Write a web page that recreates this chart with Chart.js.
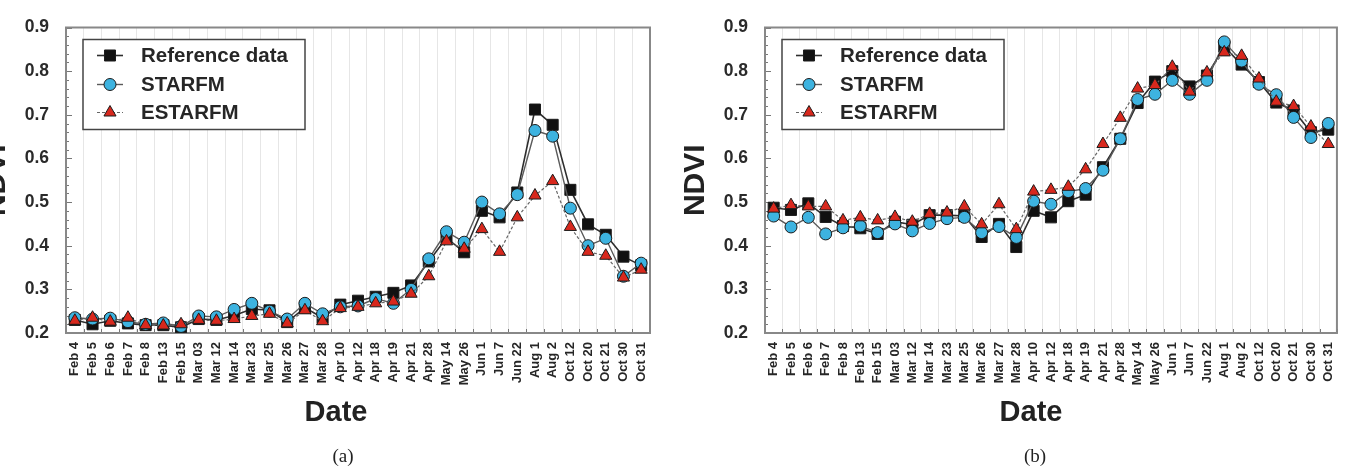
<!DOCTYPE html>
<html lang="en">
<head>
<meta charset="UTF-8" />
<title>NDVI time series</title>
<script src="https://cdn.jsdelivr.net/npm/chart.js"></script>
<style>
  html, body { margin: 0; padding: 0; background: #fff; }
  body { width: 1353px; height: 472px; position: relative; overflow: hidden; font-family: Arial, "Liberation Sans", sans-serif; }
  .panel { position: absolute; top: 0; }
  .xtitle { position: absolute; top: 395px; font: bold 29px Arial, "Liberation Sans", sans-serif; color: #222; transform: translateX(-50%); }
  .caption { position: absolute; top: 445px; font: 19px "Liberation Serif", "Times New Roman", serif; color: #222; transform: translateX(-50%); }
</style>
</head>
<body>
  <div class="panel" style="left:-24px"><canvas id="chartA" width="694" height="400"></canvas></div>
  <div class="panel" style="left:675px"><canvas id="chartB" width="678" height="400"></canvas></div>
  <div class="xtitle" style="left:336px">Date</div>
  <div class="xtitle" style="left:1031px">Date</div>
  <div class="caption" style="left:343px">(a)</div>
  <div class="caption" style="left:1035px">(b)</div>

<script>
  const dates = ['Feb 4','Feb 5','Feb 6','Feb 7','Feb 8','Feb 13','Feb 15','Mar 03','Mar 12','Mar 14','Mar 23',
    'Mar 25','Mar 26','Mar 27','Mar 28','Apr 10','Apr 12','Apr 18','Apr 19','Apr 21','Apr 28','May 14','May 26',
    'Jun 1','Jun 7','Jun 22','Aug 1','Aug 2','Oct 12','Oct 20','Oct 21','Oct 30','Oct 31'];

  // panel (a)
  const refA = [0.230,0.220,0.228,0.222,0.218,0.218,0.213,0.232,0.230,0.240,0.255,0.252,0.225,0.258,0.235,0.265,
    0.274,0.283,0.292,0.309,0.364,0.418,0.385,0.480,0.465,0.522,0.712,0.677,0.528,0.449,0.425,0.375,0.355];
  const starfmA = [0.235,0.232,0.234,0.226,0.220,0.223,0.215,0.239,0.237,0.254,0.268,0.250,0.232,0.268,0.244,0.260,
    0.262,0.279,0.268,0.300,0.370,0.432,0.408,0.500,0.473,0.517,0.664,0.651,0.486,0.400,0.417,0.330,0.360];
  const estarfmA = [0.228,0.235,0.226,0.235,0.218,0.217,0.220,0.230,0.228,0.232,0.239,0.244,0.222,0.252,0.227,0.257,
    0.260,0.268,0.272,0.290,0.330,0.410,0.393,0.438,0.386,0.465,0.515,0.548,0.443,0.386,0.377,0.327,0.345];

  // panel (b)
  const refB = [0.487,0.482,0.497,0.466,0.445,0.440,0.427,0.455,0.448,0.470,0.470,0.468,0.420,0.450,0.397,0.480,
    0.465,0.502,0.517,0.580,0.645,0.727,0.776,0.800,0.765,0.790,0.856,0.815,0.775,0.728,0.710,0.660,0.666];
  const starfmB = [0.468,0.443,0.465,0.427,0.441,0.445,0.430,0.450,0.434,0.451,0.462,0.465,0.430,0.444,0.419,0.502,
    0.495,0.524,0.531,0.573,0.645,0.735,0.747,0.779,0.747,0.779,0.867,0.823,0.770,0.746,0.694,0.648,0.680];
  const estarfmB = [0.485,0.493,0.490,0.490,0.458,0.465,0.458,0.466,0.455,0.473,0.476,0.490,0.449,0.495,0.438,0.524,
    0.528,0.535,0.575,0.633,0.693,0.760,0.768,0.810,0.753,0.797,0.843,0.835,0.783,0.730,0.720,0.673,0.633];

  const yMin = 0.2, yMax = 0.9, yStep = 0.1;
  const seriesNames = ['Reference data', 'STARFM', 'ESTARFM'];

  const edge = '#1c1c1c';
  const styles = [
    { line: '#2e2e2e', width: 1.6, dash: [], point: 'rect', radius: 7.8, fill: '#111111' },
    { line: '#5a5a5a', width: 1.4, dash: [], point: 'circle', radius: 6, fill: '#3db3e0' },
    { line: '#666666', width: 1.2, dash: [3, 2], point: 'triangle', radius: 7, fill: '#d8281d' }
  ];

  // frame, minor ticks on the axes and the inset legend
  const decor = {
    id: 'decor',
    beforeDatasetsDraw(chart) {
      const { ctx, chartArea: a, scales: { x, y } } = chart;
      ctx.save();
      ctx.strokeStyle = '#777';
      ctx.lineWidth = 1;
      for (let i = 10; i <= 45; i++) {
        const py = Math.round(y.getPixelForValue(i / 50)) + 0.5;
        const len = i % 5 === 0 ? 6 : 3;
        ctx.beginPath(); ctx.moveTo(a.left, py); ctx.lineTo(a.left + len, py); ctx.stroke();
      }
      for (let i = 0; i <= dates.length; i++) {
        const px = Math.round(x.getPixelForValue(i - 0.5)) + 0.5;
        ctx.beginPath(); ctx.moveTo(px, a.bottom); ctx.lineTo(px, a.bottom - 4); ctx.stroke();
      }
      ctx.strokeStyle = '#888';
      ctx.lineWidth = 2;
      ctx.strokeRect(a.left, a.top, a.right - a.left, a.bottom - a.top);
      ctx.restore();
    },
    afterDatasetsDraw(chart) {
      const { ctx, chartArea: a } = chart;
      const bx = a.left + 17, by = a.top + 12, bw = 222, bh = 90;
      ctx.save();
      ctx.fillStyle = '#fff';
      ctx.fillRect(bx, by, bw, bh);
      ctx.strokeStyle = '#444';
      ctx.lineWidth = 1.5;
      ctx.strokeRect(bx, by, bw, bh);
      const rows = [16, 45, 73];
      seriesNames.forEach((name, i) => {
        const s = styles[i];
        const cy = by + rows[i];
        ctx.strokeStyle = s.line;
        ctx.lineWidth = s.width;
        ctx.setLineDash(s.dash);
        ctx.beginPath(); ctx.moveTo(bx + 14, cy); ctx.lineTo(bx + 40, cy); ctx.stroke();
        ctx.setLineDash([]);
        ctx.fillStyle = s.fill;
        ctx.strokeStyle = edge;
        ctx.lineWidth = 1;
        Chart.helpers.drawPoint(ctx, { pointStyle: s.point, radius: s.radius, rotation: 0, borderWidth: 1 }, bx + 27, cy);
        ctx.fillStyle = '#262626';
        ctx.font = 'bold 20.5px Arial, "Liberation Sans", sans-serif';
        ctx.textBaseline = 'middle';
        ctx.fillText(name, bx + 58, cy + 1);
      });
      ctx.restore();
    }
  };

  function makeChart(id, values, rightPad) {
    const datasets = values.map((v, i) => {
      const s = styles[i];
      return {
        label: seriesNames[i],
        data: v,
        order: 3 - i,
        borderColor: s.line,
        borderWidth: s.width,
        borderDash: s.dash,
        pointStyle: s.point,
        pointRadius: s.radius,
        pointBackgroundColor: s.fill,
        pointBorderColor: edge,
        pointBorderWidth: 1,
        tension: 0,
        fill: false
      };
    });

    return new Chart(document.getElementById(id), {
      type: 'line',
      data: { labels: dates, datasets },
      options: {
        responsive: false,
        animation: false,
        layout: { padding: { top: 13, right: rightPad, bottom: 0, left: 0 } },
        plugins: { legend: { display: false }, tooltip: { enabled: false } },
        scales: {
          x: {
            offset: true,
            grid: { offset: true, color: '#e6e6e6', lineWidth: 1, drawTicks: false },
            border: { display: false },
            ticks: {
              autoSkip: false, maxRotation: 90, minRotation: 90, padding: 9,
              color: '#262626', font: { family: 'Arial', weight: 'bold', size: 13 }
            },
            afterFit(scale) { scale.height = 67; }
          },
          y: {
            min: yMin, max: yMax,
            grid: { display: false, drawTicks: false },
            border: { display: false },
            ticks: {
              stepSize: yStep, padding: 17, color: '#2a2a2a',
              font: { family: 'Arial', weight: 'bold', size: 17.5 },
              callback: v => v.toFixed(1)
            },
            title: {
              display: true, text: 'NDVI', color: '#222',
              font: { family: 'Arial', weight: 'bold', size: 30 },
              padding: { top: 3, bottom: 0 }
            },
            afterFit(scale) { scale.width = 90; }
          }
        }
      },
      plugins: [decor]
    });
  }

  makeChart('chartA', [refA, starfmA, estarfmA], 20);
  makeChart('chartB', [refB, starfmB, estarfmB], 5);
</script>
</body>
</html>
